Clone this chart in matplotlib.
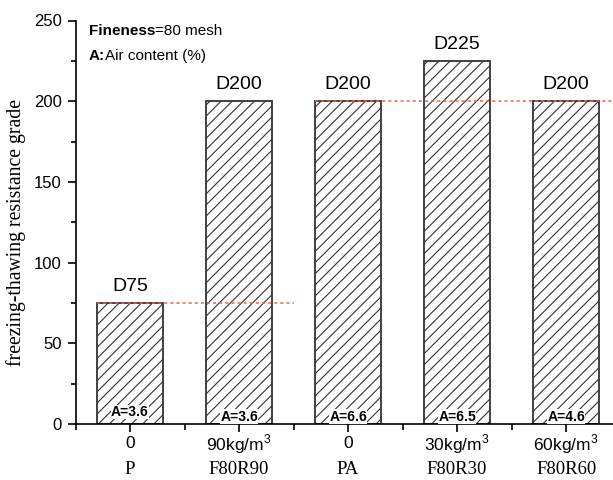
import matplotlib
matplotlib.use("Agg")
import matplotlib.pyplot as plt
import matplotlib.transforms as mtransforms
from matplotlib.ticker import MultipleLocator, FixedLocator

groups = ["P", "F80R90", "PA", "F80R30", "F80R60"]
rubber = ["0", "90kg/m$^3$", "0", "30kg/m$^3$", "60kg/m$^3$"]
grade = [75, 200, 200, 225, 200]
grade_labels = ["D75", "D200", "D200", "D225", "D200"]
air = ["A=3.6", "A=3.6", "A=6.6", "A=6.5", "A=4.6"]

plt.rcParams["hatch.linewidth"] = 0.8
plt.rcParams["mathtext.fontset"] = "custom"
plt.rcParams["mathtext.rm"] = "Liberation Sans"

W, H = 613, 480
fig = plt.figure(figsize=(W / 100, H / 100), dpi=100)
ax = fig.add_axes([75.5 / W, 56 / H, 1 - 75.5 / W, (424 - 20.5) / H])

x = list(range(len(groups)))
ax.bar(x, grade, width=0.6, color="white", edgecolor="#333333", linewidth=1.3,
       hatch="///", zorder=2)

ax.set_xlim(-0.5, 4.43)
ax.set_ylim(0, 250)

for s in ["top", "right"]:
    ax.spines[s].set_visible(False)
for s in ["left", "bottom"]:
    ax.spines[s].set_linewidth(1.2)

sans = "Liberation Sans"
serif = "Liberation Serif"

ax.yaxis.set_major_locator(MultipleLocator(50))
ax.yaxis.set_minor_locator(MultipleLocator(25))
ax.tick_params(axis="y", which="major", direction="out", length=6, width=1.2,
               labelsize=12, pad=4)
ax.tick_params(axis="y", which="minor", direction="out", length=3.5, width=1.2)
for lab in ax.get_yticklabels():
    lab.set_family(sans)

ax.set_xticks(x)
ax.set_xticklabels([])
ax.xaxis.set_minor_locator(FixedLocator([i + 0.5 for i in range(-1, 5)]))
ax.tick_params(axis="x", which="major", direction="out", length=6, width=1.2)
ax.tick_params(axis="x", which="minor", direction="out", length=4, width=1.2)

trans = mtransforms.blended_transform_factory(ax.transData, fig.transFigure)
for xi, r, g in zip(x, rubber, groups):
    ax.text(xi, (H - 444) / H, r, transform=trans, ha="center", va="center",
            fontfamily=sans, fontsize=12.5)
    ax.text(xi, (H - 469) / H, g, transform=trans, ha="center", va="center",
            fontfamily=serif, fontsize=13.5)

for xi, v, lab in zip(x, grade, grade_labels):
    ax.annotate(lab, (xi, v), xytext=(0, 6), textcoords="offset points",
                ha="center", va="bottom", fontfamily=sans, fontsize=14)

air_y = [7.4, 4.5, 4.5, 4.5, 4.5]
for xi, a, yy in zip(x, air, air_y):
    ax.text(xi, yy, a, ha="center", va="center", fontfamily=sans, fontsize=10,
            fontweight="bold", zorder=3,
            bbox=dict(facecolor="white", edgecolor="none", pad=0.3))

red = "#f0604a"
ax.plot([-0.3, 1.5], [grade[0], grade[0]], linestyle=(0, (2, 2)), color=red,
        linewidth=1.1, zorder=3)
ax.plot([1.7, 4.43], [grade[2], grade[2]], linestyle=(0, (2, 2)), color=red,
        linewidth=1.1, zorder=3, clip_on=False)

fig.text(16 / W, 1 - 233 / H, "freezing-thawing resistance grade",
         fontfamily=serif, fontsize=14.2, rotation=90, ha="center", va="center")

t1 = fig.text(89 / W, 1 - 31 / H, "Fineness", fontfamily=sans, fontsize=11,
              fontweight="bold", va="center")
fig.canvas.draw()
bb = t1.get_window_extent()
fig.text(bb.x1 / W, 1 - 31 / H, "=80 mesh", fontfamily=sans, fontsize=11,
         va="center")
t2 = fig.text(89 / W, 1 - 56 / H, "A:", fontfamily=sans, fontsize=11,
              fontweight="bold", va="center")
fig.canvas.draw()
bb2 = t2.get_window_extent()
fig.text(bb2.x1 / W, 1 - 56 / H, "Air content (%)", fontfamily=sans, fontsize=11,
         va="center")

fig.savefig("out.png", dpi=100)
